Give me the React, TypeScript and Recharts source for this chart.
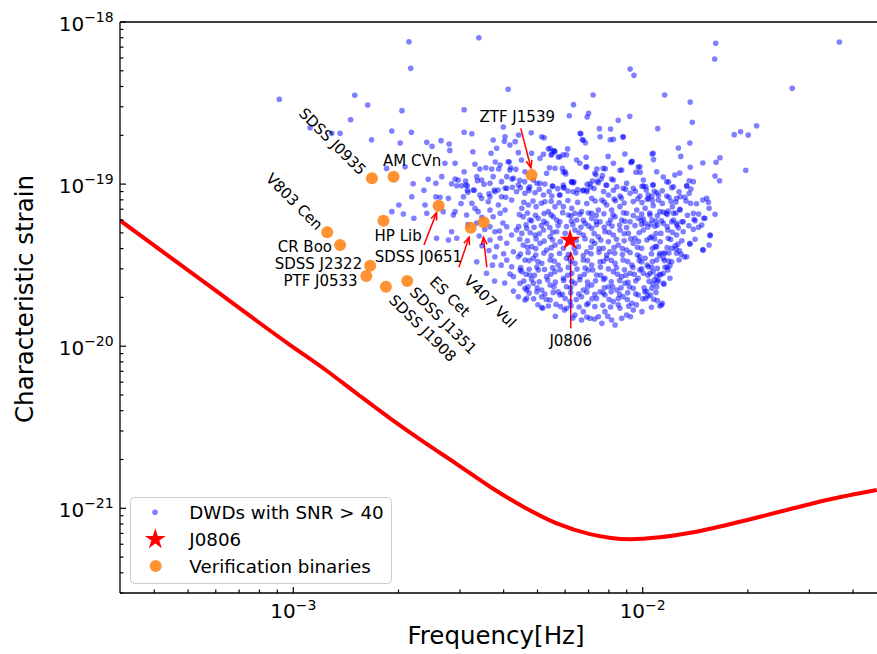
import React from 'react';
import { ComposedChart, Line, Scatter, XAxis, YAxis, ReferenceLine } from 'recharts';

const FONT = "'DejaVu Sans', sans-serif";

// LISA characteristic strain sensitivity: [log10 f (Hz), log10 h_c]
const curveLog10: [number, number][] = [
  [-3.496, -19.224], [-3.250, -19.613], [-3.009, -19.993], [-2.914, -20.136], [-2.819, -20.291],
  [-2.723, -20.445], [-2.628, -20.589], [-2.532, -20.727], [-2.437, -20.867], [-2.342, -20.990],
  [-2.246, -21.093], [-2.151, -21.159], [-2.036, -21.191], [-1.951, -21.179], [-1.855, -21.148],
  [-1.760, -21.103], [-1.664, -21.052], [-1.569, -21.000], [-1.473, -20.949], [-1.330, -20.887],
];

// DWDs with SNR > 40: [log10 f, log10 h_c]
const dwdLog10: [number, number][] = [
  [-2.669,-18.122],[-2.469,-18.097],[-2.664,-18.286],[-2.385,-18.415],[-3.040,-18.477],[-2.824,-18.452],[-2.787,-18.512],[-2.689,-18.547],[-2.836,-18.603],[-2.511,-18.541],[-2.399,-18.648],[-2.952,-18.652],[-2.890,-18.687],[-2.866,-18.687],[-2.776,-18.726],[-2.718,-18.672],[-2.662,-18.680],[-2.694,-18.746],[-2.511,-18.680],[-2.489,-18.689],[-2.618,-18.742],[-2.603,-18.767],[-2.577,-18.732],[-2.554,-18.753],[-2.552,-18.792],[-2.428,-18.728],[-2.396,-18.736],[-2.355,-18.697],[-2.319,-18.683],[-2.282,-18.714],[-2.486,-18.800],[-2.418,-18.779],[-2.434,-18.810],[-2.733,-18.903],[-2.680,-18.893],[-2.566,-18.872],[-2.480,-18.878],[-2.466,-18.907],[-2.449,-18.899],[-2.432,-18.907],[-2.412,-18.907],[-2.422,-18.864],[-2.385,-18.862],[-2.378,-18.899],[-2.363,-18.909],[-2.347,-18.851],[-2.318,-18.810],[-2.284,-18.816],[-2.270,-18.783],[-2.256,-18.796],[-2.262,-18.821],[-2.267,-18.899],[-2.657,-18.998],[-2.661,-19.078],[-2.626,-19.038],[-2.614,-18.970],[-2.592,-18.995],[-2.592,-19.078],[-2.580,-19.081],[-2.547,-18.998],[-2.532,-19.010],[-2.518,-19.010],[-2.502,-19.010],[-2.537,-18.969],[-2.507,-18.981],[-2.475,-18.954],[-2.473,-18.979],[-2.482,-19.038],[-2.502,-19.038],[-2.454,-19.001],[-2.437,-19.078],[-2.425,-19.036],[-2.414,-19.036],[-2.394,-19.026],[-2.389,-18.954],[-2.374,-18.969],[-2.373,-19.020],[-2.392,-19.081],[-2.350,-19.022],[-2.352,-18.977],[-2.337,-18.924],
  [-1.791,-18.131],[-1.794,-18.228],[-1.437,-18.123],[-2.036,-18.290],[-2.025,-18.329],[-1.572,-18.409],[-2.142,-18.450],[-1.937,-18.450],[-2.198,-18.510],[-1.864,-18.494],[-2.210,-18.578],[-2.159,-18.586],[-2.155,-18.563],[-2.037,-18.582],[-2.070,-18.606],[-1.858,-18.619],[-1.738,-18.695],[-1.720,-18.677],[-1.698,-18.697],[-1.674,-18.640],[-2.124,-18.658],[-2.092,-18.660],[-1.957,-18.658],[-2.177,-18.689],[-2.173,-18.726],[-2.164,-18.745],[-2.093,-18.726],[-2.056,-18.709],[-1.865,-18.746],[-1.898,-18.777],[-2.215,-18.783],[-2.253,-18.794],[-2.242,-18.833],[-2.228,-18.820],[-2.260,-18.814],[-2.162,-18.835],[-2.163,-18.895],[-2.180,-18.872],[-2.099,-18.829],[-2.051,-18.814],[-1.973,-18.814],[-1.969,-18.849],[-1.891,-18.829],[-2.034,-18.868],[-2.031,-18.859],[-2.065,-18.915],[-2.013,-18.895],[-2.019,-18.927],[-2.007,-18.927],[-2.131,-18.907],[-2.107,-18.905],[-2.230,-18.903],[-2.227,-18.927],[-2.220,-18.938],[-2.134,-18.942],[-2.115,-18.948],[-2.119,-18.969],[-2.144,-18.981],[-2.130,-18.983],[-2.204,-18.987],[-2.197,-18.987],[-2.089,-18.969],[-2.103,-19.007],[-2.159,-19.001],[-2.149,-19.018],[-2.258,-19.014],[-2.225,-19.024],[-2.172,-19.041],[-1.941,-18.956],[-1.926,-18.987],[-1.917,-19.022],[-1.908,-18.944],[-1.894,-18.932],[-1.864,-18.896],[-1.828,-18.870],[-1.790,-18.865],[-1.779,-18.837],[-1.705,-18.915],[-1.793,-18.950],[-1.780,-18.979],[-1.867,-18.979],[-1.874,-19.010],[-1.867,-19.057],[-1.971,-19.004],[-2.002,-19.014],[-1.991,-19.016],[-1.967,-19.044],[-1.974,-19.075],[-1.955,-19.069],[-2.014,-19.090],[-1.983,-19.088],[-1.925,-19.081],[-1.892,-19.078],[-1.817,-19.088],[-2.238,-19.067],[-2.146,-19.088],[-2.082,-19.092],[-2.061,-19.086],
  [-1.863,-19.118],[-1.810,-19.149],[-1.793,-19.186],[-1.825,-19.211],[-1.807,-19.318],[-1.810,-19.376],[-1.828,-19.405],[-1.919,-19.106],[-1.915,-19.139],[-1.927,-19.166],[-1.912,-19.180],[-1.933,-19.180],[-1.894,-19.155],[-1.970,-19.133],[-1.979,-19.191],[-1.987,-19.094],[-1.941,-19.172],[-1.946,-19.226],[-1.903,-19.242],[-1.902,-19.254],[-1.884,-19.232],[-1.853,-19.217],[-1.850,-19.226],[-1.855,-19.279],[-1.884,-19.294],[-1.928,-19.283],[-1.948,-19.304],[-1.865,-19.371],[-1.907,-19.380],[-1.899,-19.370],[-1.905,-19.399],[-1.895,-19.411],[-1.903,-19.427],[-1.881,-19.448],[-1.896,-19.468],[-1.964,-19.386],[-1.979,-19.331],[-1.966,-19.337],[-1.973,-19.221],[-1.965,-19.260],[-1.998,-19.215],[-1.978,-19.246],[-2.003,-19.248],[-1.951,-19.427],[-1.936,-19.427],[-1.941,-19.458],[-1.926,-19.474],[-1.922,-19.503],[-1.936,-19.513],[-1.928,-19.530],[-1.948,-19.559],[-1.939,-19.618],[-1.960,-19.571],[-1.967,-19.592],[-1.958,-19.602],[-1.971,-19.616],[-1.974,-19.643],[-1.991,-19.705],[-1.969,-19.711],[-1.958,-19.719],[-1.944,-19.735],[-1.951,-19.752],[-2.002,-19.787],[-1.962,-19.668],[-1.989,-19.661],[-1.994,-19.664],[-2.008,-19.448],[-1.993,-19.458],[-2.003,-19.479],[-1.987,-19.499],[-2.008,-19.530],[-1.998,-19.550],[-1.979,-19.550],[-1.970,-19.540],[-1.974,-19.513],
  [-2.338,-18.985],[-2.323,-19.016],[-2.303,-18.995],[-2.280,-18.999],[-2.258,-19.012],[-2.227,-19.020],[-2.199,-18.991],[-2.170,-19.036],[-2.151,-18.999],[-2.127,-18.991],[-2.105,-19.006],[-2.074,-19.016],[-2.056,-19.026],[-1.998,-19.012],[-1.970,-19.006],[-1.931,-18.985],[-1.912,-19.016],[-1.874,-19.012],[-1.855,-18.985],
  [-2.337,-19.057],[-2.308,-19.053],[-2.284,-19.067],[-2.260,-19.073],[-2.237,-19.067],[-2.189,-19.057],[-2.160,-19.047],[-2.117,-19.098],[-2.098,-19.067],[-2.065,-19.073],[-2.036,-19.057],[-2.008,-19.073],[-1.984,-19.067],[-1.960,-19.053],[-1.955,-19.098],[-1.931,-19.073],[-1.903,-19.088],[-1.879,-19.081],[-1.828,-19.098],
  [-2.346,-19.149],[-2.327,-19.129],[-2.305,-19.139],[-2.280,-19.109],[-2.270,-19.170],[-2.251,-19.139],[-2.227,-19.139],[-2.203,-19.149],[-2.194,-19.180],[-2.175,-19.170],[-2.146,-19.180],[-2.127,-19.160],[-2.103,-19.129],[-2.089,-19.160],[-2.065,-19.139],[-2.046,-19.180],[-2.017,-19.160],[-1.993,-19.149],[-1.951,-19.170],[-1.893,-19.160],[-1.855,-19.180],[-1.822,-19.211],
  [-2.342,-19.201],[-2.323,-19.221],[-2.299,-19.211],[-2.275,-19.242],[-2.256,-19.201],[-2.237,-19.232],[-2.213,-19.191],[-2.189,-19.221],[-2.165,-19.242],[-2.146,-19.211],[-2.122,-19.232],[-2.098,-19.242],[-2.079,-19.201],[-2.060,-19.221],[-2.036,-19.232],[-2.013,-19.211],[-1.993,-19.242],[-1.941,-19.242],[-1.917,-19.232],[-1.888,-19.232],[-1.831,-19.252],[-1.807,-19.314],
  [-2.346,-19.304],[-2.332,-19.273],[-2.308,-19.314],[-2.284,-19.283],[-2.265,-19.325],[-2.246,-19.294],[-2.194,-19.283],[-2.170,-19.314],[-2.146,-19.273],[-2.127,-19.325],[-2.108,-19.294],[-2.084,-19.314],[-2.065,-19.283],[-2.041,-19.304],[-2.022,-19.334],[-1.998,-19.283],[-1.974,-19.325],[-1.927,-19.334],[-1.903,-19.314],[-1.865,-19.365],[-1.827,-19.407],
  [-2.342,-19.376],[-2.318,-19.386],[-2.294,-19.365],[-2.275,-19.407],[-2.251,-19.376],[-2.227,-19.396],[-2.184,-19.386],[-2.160,-19.417],[-2.137,-19.365],[-2.113,-19.396],[-2.094,-19.417],[-2.070,-19.376],[-2.046,-19.407],[-2.027,-19.365],[-2.003,-19.396],[-1.960,-19.386],[-1.941,-19.427],[-1.917,-19.396],[-1.874,-19.448],
  [-2.337,-19.468],[-2.313,-19.458],[-2.289,-19.489],[-2.265,-19.468],[-2.242,-19.499],[-2.218,-19.458],[-2.194,-19.489],[-2.170,-19.468],[-2.146,-19.499],[-2.122,-19.479],[-2.103,-19.458],[-2.079,-19.489],[-2.056,-19.468],[-2.031,-19.499],[-1.984,-19.510],[-1.960,-19.468],[-1.917,-19.479],
  [-2.346,-19.540],[-2.323,-19.561],[-2.299,-19.530],[-2.275,-19.571],[-2.251,-19.540],[-2.227,-19.581],[-2.203,-19.550],[-2.179,-19.571],[-2.156,-19.530],[-2.132,-19.561],[-2.108,-19.581],[-2.084,-19.540],[-2.060,-19.571],[-2.036,-19.550],[-2.013,-19.581],[-1.941,-19.550],[-1.922,-19.581],
  [-2.337,-19.643],[-2.313,-19.612],[-2.289,-19.653],[-2.265,-19.622],[-2.242,-19.664],[-2.218,-19.633],[-2.194,-19.612],[-2.170,-19.653],[-2.146,-19.622],[-2.122,-19.664],[-2.098,-19.633],[-2.074,-19.653],[-2.051,-19.612],[-2.027,-19.643],[-1.941,-19.612],
  [-2.332,-19.705],[-2.289,-19.695],[-2.265,-19.715],[-2.237,-19.684],[-2.208,-19.725],[-2.175,-19.695],[-2.156,-19.735],[-2.132,-19.705],[-2.108,-19.684],[-2.084,-19.725],[-2.056,-19.695],[-2.031,-19.735],[-2.013,-19.684],[-1.946,-19.746],
  [-2.289,-19.762],[-2.218,-19.766],[-2.170,-19.787],[-2.151,-19.828],[-2.127,-19.818],[-2.108,-19.787],[-2.089,-19.838],[-2.079,-19.869],[-2.046,-19.808],[-2.027,-19.777],[-2.175,-19.838],[-2.117,-19.859],[-2.065,-19.766],[-2.337,-19.715],[-2.286,-19.766],[-2.224,-19.777],[-2.194,-19.808],[-2.235,-19.756],
  [-2.289,-18.708],[-2.265,-18.779],[-2.251,-18.800],[-2.237,-18.831],[-2.218,-18.820],[-2.179,-18.687],[-2.170,-18.728],[-2.122,-18.708],[-2.084,-18.724],[-2.056,-18.708],[-2.294,-18.841],[-2.275,-18.933],[-2.251,-18.902],[-2.222,-18.924],[-2.203,-18.985],[-2.189,-18.851],[-2.160,-18.893],[-2.137,-18.933],[-2.113,-18.903],[-2.084,-18.872],[-2.060,-18.913],[-2.031,-18.862],[-2.008,-18.893],[-1.970,-18.810],[-1.960,-18.924],[-1.998,-18.975],[-2.027,-19.026],[-2.046,-18.995],[-2.084,-18.975],[-2.160,-19.036],[-2.199,-19.047],[-2.227,-19.006],[-2.294,-18.995],[-2.313,-18.975],[-2.327,-19.026],
  [-2.394,-18.708],[-2.380,-18.759],[-2.365,-18.738],[-2.356,-18.806],[-2.537,-18.872],[-2.511,-18.924],[-2.408,-18.882],[-2.382,-18.864],[-2.380,-18.913],[-2.575,-18.954],[-2.528,-18.975],[-2.506,-19.006],[-2.485,-19.036],[-2.461,-18.975],[-2.437,-18.995],[-2.428,-18.954],[-2.404,-18.985],[-2.370,-18.964],[-2.389,-19.026],[-2.356,-19.006],[-2.537,-19.170],[-2.556,-19.088],[-2.513,-19.078],[-2.489,-19.118],[-2.466,-19.067],[-2.461,-19.088],[-2.442,-19.109],[-2.423,-19.047],[-2.413,-19.129],[-2.404,-19.078],[-2.375,-19.098],[-2.361,-19.047],[-2.437,-19.160],[-2.428,-19.201],[-2.408,-19.180],[-2.394,-19.160],[-2.437,-19.263],[-2.423,-19.294],[-2.408,-19.334],[-2.389,-19.263],[-2.375,-19.314],[-2.361,-19.283],[-2.389,-19.365],[-2.370,-19.417],[-2.418,-19.386],[-2.356,-19.448],[-2.389,-19.468],[-2.375,-19.510],[-2.351,-19.530],[-2.437,-19.345],[-2.423,-19.448],[-2.447,-19.550],[-2.370,-19.571],[-2.351,-19.612],[-2.332,-19.653],[-2.356,-19.695],
  [-2.698,-19.129],[-2.718,-19.170],[-2.685,-19.184],[-2.655,-19.211],[-2.618,-19.180],[-2.623,-19.129],[-2.571,-19.170],[-2.542,-19.191],[-2.590,-19.334],[-2.556,-19.345],[-2.547,-19.294],[-2.532,-19.334],[-2.504,-19.191],[-2.471,-19.170],[-2.475,-19.479],[-2.424,-19.598],
  [-2.325,-19.040],[-2.296,-19.031],[-2.268,-19.046],[-2.243,-19.028],[-2.214,-19.043],[-2.186,-19.034],[-2.139,-19.027],[-2.112,-19.046],[-2.084,-19.038],[-2.049,-19.031],[-2.021,-19.044],[-1.990,-19.036],[-1.944,-19.041],[-1.896,-19.047],[-1.862,-19.030],
  [-2.340,-19.112],[-2.314,-19.104],[-2.290,-19.118],[-2.262,-19.106],[-2.239,-19.115],[-2.214,-19.101],[-2.186,-19.113],[-2.160,-19.120],[-2.136,-19.105],[-2.110,-19.111],[-2.078,-19.103],[-2.053,-19.117],[-2.027,-19.108],[-2.002,-19.114],[-1.972,-19.102],[-1.944,-19.119],[-1.905,-19.110],[-1.876,-19.104],[-1.846,-19.121],[-1.812,-19.112],
  [-2.353,-19.188],[-2.330,-19.178],[-2.307,-19.192],[-2.282,-19.181],[-2.262,-19.190],[-2.229,-19.176],[-2.205,-19.195],[-2.180,-19.186],[-2.155,-19.178],[-2.133,-19.193],[-2.111,-19.183],[-2.085,-19.190],[-2.055,-19.177],[-2.027,-19.194],[-2.003,-19.185],[-1.980,-19.179],[-1.958,-19.196],[-1.930,-19.187],[-1.905,-19.178],[-1.872,-19.192],[-1.840,-19.184],
  [-2.355,-19.262],[-2.334,-19.251],[-2.311,-19.266],[-2.290,-19.255],[-2.266,-19.268],[-2.242,-19.256],[-2.218,-19.262],[-2.200,-19.250],[-2.177,-19.266],[-2.155,-19.258],[-2.132,-19.251],[-2.110,-19.267],[-2.088,-19.259],[-2.066,-19.252],[-2.046,-19.268],[-2.022,-19.256],[-1.985,-19.264],[-1.958,-19.253],[-1.930,-19.262],[-1.898,-19.270],[-1.868,-19.257],[-1.840,-19.266],
  [-2.352,-19.340],[-2.330,-19.350],[-2.305,-19.338],[-2.282,-19.352],[-2.258,-19.344],[-2.236,-19.355],[-2.190,-19.348],[-2.165,-19.338],[-2.145,-19.352],[-2.120,-19.345],[-2.098,-19.356],[-2.075,-19.340],[-2.053,-19.350],[-2.034,-19.338],[-2.012,-19.353],[-1.988,-19.345],[-1.950,-19.356],[-1.920,-19.342],[-1.888,-19.350],[-1.850,-19.340],
  [-2.350,-19.432],[-2.328,-19.422],[-2.306,-19.437],[-2.283,-19.426],[-2.262,-19.440],[-2.238,-19.428],[-2.213,-19.434],[-2.192,-19.424],[-2.170,-19.440],[-2.148,-19.430],[-2.125,-19.421],[-2.103,-19.438],[-2.080,-19.427],[-2.058,-19.435],[-2.036,-19.423],[-2.015,-19.438],[-1.975,-19.430],[-1.952,-19.440],[-1.925,-19.425],[-1.890,-19.433],
  [-2.349,-19.515],[-2.325,-19.525],[-2.303,-19.512],[-2.281,-19.527],[-2.258,-19.517],[-2.236,-19.528],[-2.213,-19.514],[-2.188,-19.524],[-2.165,-19.518],[-2.143,-19.530],[-2.121,-19.512],[-2.098,-19.523],[-2.075,-19.516],[-2.052,-19.528],[-2.028,-19.514],[-2.003,-19.522],[-1.958,-19.520],[-1.930,-19.513],
  [-2.340,-19.598],[-2.318,-19.588],[-2.296,-19.602],[-2.272,-19.592],[-2.250,-19.605],[-2.226,-19.594],[-2.203,-19.600],[-2.180,-19.590],[-2.158,-19.604],[-2.135,-19.596],[-2.112,-19.588],[-2.090,-19.603],[-2.066,-19.594],[-2.042,-19.606],[-2.020,-19.596],[-1.982,-19.600],[-1.955,-19.592],
  [-2.325,-19.672],[-2.303,-19.664],[-2.280,-19.678],[-2.256,-19.668],[-2.230,-19.680],[-2.206,-19.670],[-2.183,-19.678],[-2.160,-19.666],[-2.137,-19.680],[-2.113,-19.672],[-2.090,-19.664],[-2.066,-19.680],[-2.043,-19.670],[-2.020,-19.676],[-1.978,-19.684],
  [-2.300,-19.744],[-2.270,-19.752],[-2.248,-19.742],[-2.205,-19.750],[-2.182,-19.758],[-2.160,-19.744],[-2.137,-19.756],[-2.114,-19.748],[-2.092,-19.758],[-2.070,-19.745],[-2.040,-19.753],[-2.018,-19.745],[-1.975,-19.760],
  [-2.250,-19.815],[-2.200,-19.826],[-2.160,-19.820],[-2.138,-19.832],[-2.100,-19.815],[-2.060,-19.828],[-2.035,-19.818],
  [-2.480,-19.150],[-2.460,-19.205],[-2.475,-19.240],[-2.452,-19.280],[-2.468,-19.320],[-2.440,-19.410],[-2.460,-19.380],[-2.400,-19.240],[-2.410,-19.290],[-2.398,-19.430],[-2.405,-19.500],[-2.380,-19.555],[-2.395,-19.610],[-2.370,-19.660],[-2.430,-19.500],[-2.440,-19.060],[-2.520,-19.120],[-2.500,-19.250],[-2.500,-19.050],
  [-2.318,-19.226],[-2.283,-19.230],[-2.246,-19.222],[-2.204,-19.228],[-2.170,-19.224],[-2.133,-19.230],[-2.092,-19.222],[-2.051,-19.229],[-2.004,-19.224],[-1.962,-19.230],[-1.912,-19.222],
  [-2.322,-19.300],[-2.296,-19.306],[-2.258,-19.298],[-2.222,-19.304],[-2.182,-19.300],[-2.139,-19.305],[-2.096,-19.298],[-2.053,-19.306],[-2.010,-19.300],[-1.962,-19.305],[-1.915,-19.298],
  [-2.330,-19.390],[-2.306,-19.398],[-2.262,-19.392],[-2.196,-19.396],[-2.148,-19.390],[-2.125,-19.398],[-2.082,-19.392],[-2.058,-19.398],[-2.015,-19.390],[-1.972,-19.396],[-1.930,-19.392],
  [-2.325,-19.472],[-2.300,-19.478],[-2.253,-19.474],[-2.206,-19.478],[-2.158,-19.472],[-2.112,-19.476],[-2.090,-19.470],[-2.043,-19.478],[-2.010,-19.472],[-1.972,-19.478],[-1.938,-19.472],
  [-2.334,-19.556],[-2.310,-19.562],[-2.263,-19.556],[-2.215,-19.562],[-2.167,-19.556],[-2.120,-19.562],[-2.072,-19.556],[-2.048,-19.562],[-2.024,-19.556],[-1.985,-19.562],[-1.952,-19.556],
  [-2.328,-19.634],[-2.302,-19.640],[-2.254,-19.634],[-2.206,-19.640],[-2.158,-19.634],[-2.110,-19.640],[-2.086,-19.634],[-2.062,-19.640],[-2.038,-19.634],[-1.996,-19.640],[-1.960,-19.634],
  [-2.312,-19.708],[-2.276,-19.712],[-2.222,-19.706],[-2.190,-19.712],[-2.145,-19.708],[-2.096,-19.712],[-2.070,-19.706],[-2.044,-19.712],[-2.000,-19.708],[-1.985,-19.690],
];

// J0806
const j0806Log10: [number, number] = [-2.208, -19.345];

// Verification binaries
const binaryNames = ['SDSS J0935', 'AM CVn', 'ZTF J1539', 'HP Lib', 'V803 Cen', 'CR Boo', 'SDSS J2322', 'PTF J0533', 'SDSS J1908', 'SDSS J1351', 'SDSS J0651', 'ES Cet', 'V407 Vul'];
const binaryLog10F = [-2.775, -2.713, -2.318, -2.742, -2.903, -2.866, -2.780, -2.791, -2.735, -2.674, -2.584, -2.492, -2.455];
const binaryLog10H = [-18.964, -18.954, -18.944, -19.226, -19.297, -19.376, -19.503, -19.567, -19.633, -19.598, -19.133, -19.269, -19.236];

// Annotation text anchors (log10 f, log10 h) and rotation
const labelNames = ['SDSS J0935', 'AM CVn', 'ZTF J1539', 'V803 Cen', 'HP Lib', 'SDSS J0651', 'CR Boo', 'SDSS J2322', 'PTF J0533', 'ES Cet', 'V407 Vul', 'SDSS J1351', 'SDSS J1908', 'J0806'];
const labelLog10F = [-2.888, -2.660, -2.359, -2.997, -2.700, -2.642, -2.967, -2.928, -2.922, -2.552, -2.437, -2.571, -2.630, -2.206];
const labelLog10H = [-18.738, -18.856, -18.584, -19.109, -19.321, -19.448, -19.391, -19.494, -19.597, -19.695, -19.725, -19.843, -19.890, -19.967];
const labelRotation = [45, 0, 0, 45, 0, 0, 0, 0, 0, 45, 45, 45, 45, 0];

// Annotation arrows: [tail log10 f, tail log10 h, head log10 f, head log10 h]
const arrowLog10: [number, number, number, number][] = [
  [-2.349, -18.656, -2.320, -18.899],
  [-2.626, -19.376, -2.590, -19.176],
  [-2.526, -19.513, -2.497, -19.328],
  [-2.446, -19.513, -2.456, -19.328],
  [-2.206, -19.890, -2.206, -19.423],
];

const xDomain: [number, number] = [10 ** -3.496, 10 ** -1.3294];
const yDomain: [number, number] = [10 ** -21.5225, 1e-18];
const xTicks = [4e-4, 5e-4, 6e-4, 7e-4, 8e-4, 9e-4, 1e-3, 2e-3, 3e-3, 4e-3, 5e-3, 6e-3, 7e-3, 8e-3, 9e-3, 1e-2, 2e-2, 3e-2, 4e-2];
const yTicks = [
  3e-22, 4e-22, 5e-22, 6e-22, 7e-22, 8e-22, 9e-22, 1e-21,
  2e-21, 3e-21, 4e-21, 5e-21, 6e-21, 7e-21, 8e-21, 9e-21, 1e-20,
  2e-20, 3e-20, 4e-20, 5e-20, 6e-20, 7e-20, 8e-20, 9e-20, 1e-19,
  2e-19, 3e-19, 4e-19, 5e-19, 6e-19, 7e-19, 8e-19, 9e-19, 1e-18,
];

const curveData = curveLog10.map(([lf, lh]) => ({ f: 10 ** lf, h: 10 ** lh }));
const dwdData = dwdLog10.map(([lf, lh]) => ({ f: 10 ** lf, h: 10 ** lh }));
const j0806Data = [{ f: 10 ** j0806Log10[0], h: 10 ** j0806Log10[1] }];
const binaryData = binaryNames.map((name, i) => ({ name, f: 10 ** binaryLog10F[i], h: 10 ** binaryLog10H[i] }));
const labelData = labelNames.map((name, i) => ({ name, rot: labelRotation[i], f: 10 ** labelLog10F[i], h: 10 ** labelLog10H[i] }));

const isMajor = (v: number) => {
  const l = Math.log10(v);
  return Math.abs(l - Math.round(l)) < 1e-6;
};

const XTick = (p: any) => {
  const { x, y, payload } = p;
  const v = payload.value;
  const major = isMajor(v);
  return (
    <g>
      <line x1={x} y1={y} x2={x} y2={y - (major ? 6 : 3.5)} stroke="#000" strokeWidth={1.2} />
      {major && (
        <text x={x} y={y + 24.7} textAnchor="middle" fontFamily={FONT} fontSize={20} fill="#000">
          10<tspan dy={-7.5} fontSize={14}>{'\u2212' + String(-Math.round(Math.log10(v)))}</tspan>
        </text>
      )}
    </g>
  );
};

const YTick = (p: any) => {
  const { x, y, payload } = p;
  const v = payload.value;
  const major = isMajor(v);
  return (
    <g>
      <line x1={x} y1={y} x2={x + (major ? 6 : 3.5)} y2={y} stroke="#000" strokeWidth={1.2} />
      {major && (
        <text x={x - 6.3} y={y + 8.7} textAnchor="end" fontFamily={FONT} fontSize={20} fill="#000">
          10<tspan dy={-8.7} fontSize={14}>{'\u2212' + String(-Math.round(Math.log10(v)))}</tspan>
        </text>
      )}
    </g>
  );
};

const BlueDot = (p: any) => <circle cx={p.cx} cy={p.cy} r={2.8} fill="#0000ff" fillOpacity={0.5} />;
const OrangeDot = (p: any) => <circle cx={p.cx} cy={p.cy} r={6} fill="#ff7f0e" fillOpacity={0.85} />;

const starPoints = (cx: number, cy: number, R: number) => {
  const r = R * 0.382;
  const pts: string[] = [];
  for (let i = 0; i < 10; i++) {
    const ang = -Math.PI / 2 + (i * Math.PI) / 5;
    const rad = i % 2 === 0 ? R : r;
    pts.push(`${cx + rad * Math.cos(ang)},${cy + rad * Math.sin(ang)}`);
  }
  return pts.join(' ');
};
const StarShape = (p: any) => <polygon points={starPoints(p.cx, p.cy, 11)} fill="#ff0000" />;

const LabelShape = (p: any) => {
  const { cx, cy, payload } = p;
  return (
    <text
      x={cx}
      y={cy}
      transform={payload.rot ? `rotate(${payload.rot} ${cx} ${cy})` : undefined}
      textAnchor="middle"
      dominantBaseline="central"
      fontFamily={FONT}
      fontSize={15}
      fill="#000"
    >
      {payload.name}
    </text>
  );
};

const ArrowShape = (p: any) => {
  const { x1, y1, x2, y2 } = p;
  if ([x1, y1, x2, y2].some((v) => typeof v !== 'number' || isNaN(v))) return <g />;
  const ang = Math.atan2(y2 - y1, x2 - x1);
  const L = 8;
  const a = 0.38;
  const ax = x2 - L * Math.cos(ang - a);
  const ay = y2 - L * Math.sin(ang - a);
  const bx = x2 - L * Math.cos(ang + a);
  const by = y2 - L * Math.sin(ang + a);
  return (
    <g>
      <line x1={x1} y1={y1} x2={x2} y2={y2} stroke="#ff0000" strokeWidth={1.5} />
      <polyline points={`${ax},${ay} ${x2},${y2} ${bx},${by}`} fill="none" stroke="#ff0000" strokeWidth={1.5} />
    </g>
  );
};

const XLabel = () => (
  <text x={496} y={644} textAnchor="middle" fontFamily={FONT} fontSize={24.5} fill="#000">
    Frequency[Hz]
  </text>
);
const YLabel = () => (
  <text x={32.5} y={299} transform="rotate(-90 32.5 299)" textAnchor="middle" fontFamily={FONT} fontSize={24.5} fill="#000">
    Characteristic strain
  </text>
);

const Legend = () => (
  <svg width={877} height={654} style={{ position: 'absolute', left: 0, top: 0, pointerEvents: 'none' }}>
    <rect x={130.5} y={497.5} width={261} height={86} rx={4} ry={4} fill="#ffffff" fillOpacity={0.8} stroke="#cccccc" strokeWidth={1} />
    <circle cx={155} cy={512.3} r={2.8} fill="#0000ff" fillOpacity={0.5} />
    <polygon points={starPoints(155.3, 539.3, 11)} fill="#ff0000" />
    <circle cx={155.7} cy={566} r={6} fill="#ff7f0e" fillOpacity={0.85} />
    <text x={189.3} y={512.3} dominantBaseline="central" fontFamily={FONT} fontSize={18.3} fill="#000">DWDs with SNR &gt; 40</text>
    <text x={189.3} y={539.3} dominantBaseline="central" fontFamily={FONT} fontSize={18.3} fill="#000">J0806</text>
    <text x={189.3} y={566} dominantBaseline="central" fontFamily={FONT} fontSize={18.3} fill="#000">Verification binaries</text>
  </svg>
);

export default function App() {
  return (
    <div style={{ position: 'absolute', left: 0, top: 0, width: 877, height: 654, background: '#fff' }}>
      <ComposedChart width={877} height={654} margin={{ top: 22, right: 0, bottom: 0, left: 0 }}>
        <XAxis
          dataKey="f"
          type="number"
          scale="log"
          domain={xDomain}
          allowDataOverflow
          ticks={xTicks}
          interval={0}
          tickSize={0}
          tickMargin={0}
          tickLine={false}
          tick={<XTick />}
          height={61}
          axisLine={{ stroke: '#000', strokeWidth: 1.3 }}
          label={{ content: () => <XLabel /> }}
        />
        <YAxis
          dataKey="h"
          type="number"
          scale="log"
          domain={yDomain}
          allowDataOverflow
          ticks={yTicks}
          interval={0}
          tickSize={0}
          tickMargin={0}
          tickLine={false}
          tick={<YTick />}
          width={120}
          axisLine={{ stroke: '#000', strokeWidth: 1.3 }}
          label={{ content: () => <YLabel /> }}
        />
        <ReferenceLine y={1e-18} stroke="#000" strokeWidth={1.3} />
        <Line data={curveData} dataKey="h" type="monotone" dot={false} stroke="#ff0000" strokeWidth={4} isAnimationActive={false} legendType="none" />
        <Scatter data={dwdData} shape={BlueDot} isAnimationActive={false} />
        <Scatter data={j0806Data} shape={StarShape} isAnimationActive={false} />
        <Scatter data={binaryData} shape={OrangeDot} isAnimationActive={false} />
        {arrowLog10.map(([tf, th, hf, hh], i) => (
          <ReferenceLine
            key={i}
            segment={[{ x: 10 ** tf, y: 10 ** th }, { x: 10 ** hf, y: 10 ** hh }]}
            shape={ArrowShape}
          />
        ))}
        <Scatter data={labelData} shape={LabelShape} isAnimationActive={false} />
      </ComposedChart>
      <Legend />
    </div>
  );
}
